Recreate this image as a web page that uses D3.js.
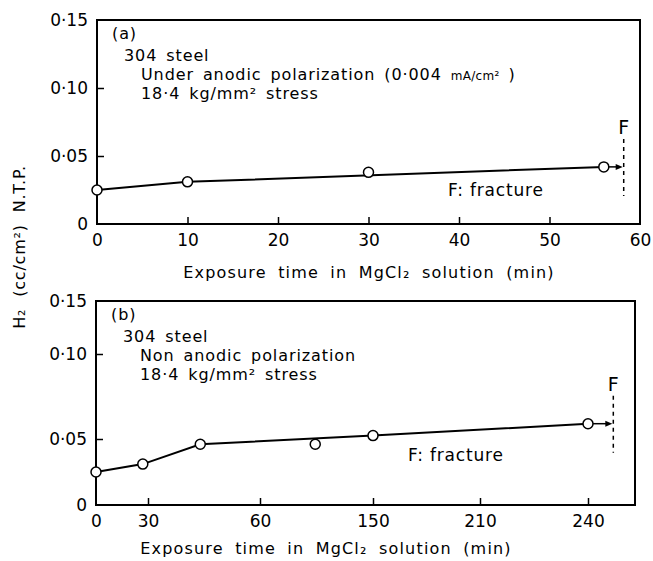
<!DOCTYPE html>
<html>
<head>
<meta charset="utf-8">
<script src="https://cdn.jsdelivr.net/npm/d3@7"></script>
<style>
  body { margin: 0; background: #fff; }
  svg { display: block; font-family: "DejaVu Sans", sans-serif; }
</style>
</head>
<body>
<svg id="chart" width="653" height="561"></svg>
<script>
// panel (a) data: under anodic polarization
const timeA = [0, 10, 30, 56];
const h2A = [0.025, 0.031, 0.038, 0.042];
// drawn line in (a) (does not pass the 30 min point)
const lineTimeA = [0, 10, 56];
const lineH2A = [0.025, 0.031, 0.042];
const fractureA = 58.2;
const xTicksA = [0, 10, 20, 30, 40, 50, 60];

// panel (b) data: non anodic polarization
const timeB = [0, 27, 44, 104, 150, 240];
const h2B = [0.025, 0.031, 0.046, 0.046, 0.052, 0.059];
const lineTimeB = [0, 27, 44, 150, 240];
const lineH2B = [0.025, 0.031, 0.046, 0.052, 0.059];
const fractureB = 247;
const xTicksB = [0, 30, 60, 150, 210, 240];

const yTicks = [0, 0.05, 0.10, 0.15];

const svg = d3.select('#chart');

// scales
const xA = d3.scaleLinear().domain([0, 60]).range([97, 640]);
const yA = d3.scaleLinear().domain([0, 0.15]).range([224, 20]);
// the printed (b) axes are uneven, so piecewise scales
const xB = d3.scaleLinear().domain([0, 30, 60, 150, 210, 240, 253]).range([96, 148, 260, 373, 480, 588, 635]);
const yB = d3.scaleLinear().domain([0, 0.05, 0.10, 0.15]).range([505, 439, 354, 301]);

const fmtY = d => d === 0 ? '0' : d3.format('.2f')(d).replace('.', '·');

function panel(x, y, xTicks, times, vals, lineT, lineV, fracT, label, lines, titleX, titleY, fracLabelX, fracLabelY) {
  const g = svg.append('g');
  const [x0, x1] = [x.range()[0], x.range()[x.range().length - 1]];
  const [y0, y1] = [y.range()[0], y.range()[y.range().length - 1]];

  // frame
  g.append('rect')
    .attr('x', x0).attr('y', y1)
    .attr('width', x1 - x0).attr('height', y0 - y1)
    .attr('fill', 'none').attr('stroke', '#000').attr('stroke-width', 2);

  // axes, ticks point inward
  const ax = g.append('g').attr('transform', `translate(0,${y0})`)
    .call(d3.axisBottom(x).tickValues(xTicks).tickSize(-7).tickPadding(10).tickFormat(d3.format('d')));
  const ay = g.append('g').attr('transform', `translate(${x0},0)`)
    .call(d3.axisLeft(y).tickValues(yTicks).tickSize(-7).tickPadding(9).tickFormat(fmtY));
  [ax, ay].forEach(a => {
    a.select('.domain').remove();
    a.selectAll('line').attr('stroke', '#000').attr('stroke-width', 1.5);
    a.selectAll('text').attr('font-size', 17).attr('fill', '#000')
      .attr('font-family', '"DejaVu Sans", sans-serif');
  });
  // no tick drawn at the frame corners
  ax.selectAll('.tick').filter((d, i) => i === 0 || d === x.domain()[x.domain().length - 1]).select('line').remove();
  ay.selectAll('.tick').filter(d => d === 0 || d === 0.15).select('line').remove();

  // line
  const line = d3.line().x(d => x(d[0])).y(d => y(d[1]));
  g.append('path')
    .datum(d3.zip(lineT, lineV))
    .attr('d', line)
    .attr('fill', 'none').attr('stroke', '#000').attr('stroke-width', 2);

  // fracture marker
  const lastX = x(times[times.length - 1]);
  const lastY = y(vals[vals.length - 1]);
  const fx = x(fracT);
  g.append('line')
    .attr('x1', fx).attr('x2', fx)
    .attr('y1', lastY - 28).attr('y2', lastY + 29)
    .attr('stroke', '#000').attr('stroke-width', 1.5).attr('stroke-dasharray', '4,4');
  g.append('text').attr('x', fx).attr('y', lastY - 33)
    .attr('text-anchor', 'middle').attr('font-size', 19).text('F');
  g.append('line')
    .attr('x1', lastX + 5).attr('x2', fx - 5)
    .attr('y1', lastY).attr('y2', lastY)
    .attr('stroke', '#000').attr('stroke-width', 1.5);
  g.append('path')
    .attr('d', `M${fx - 1},${lastY} l-7,-3 l0,6 z`)
    .attr('fill', '#000');

  // points
  g.selectAll('circle')
    .data(d3.zip(times, vals))
    .join('circle')
    .attr('cx', d => x(d[0])).attr('cy', d => y(d[1]))
    .attr('r', 5)
    .attr('fill', '#fff').attr('stroke', '#000').attr('stroke-width', 1.5);

  g.append('text').attr('x', fracLabelX).attr('y', fracLabelY)
    .attr('font-size', 17).attr('letter-spacing', 0.8).text('F: fracture');

  // annotation text
  const t = g.append('g').attr('font-size', 16).attr('letter-spacing', 0.9).attr('word-spacing', 3);
  t.append('text').attr('x', x0 + 15).attr('y', y1 + 19).text(label);
  lines.forEach((l, i) => {
    const tx = t.append('text').attr('x', x0 + (i === 0 ? 27 : 44)).attr('y', y1 + 41 + i * 19);
    l(tx);
  });

  // x title
  const tt = g.append('text').attr('x', titleX).attr('y', titleY)
    .attr('text-anchor', 'middle').attr('font-size', 16)
    .attr('letter-spacing', 1.2).attr('word-spacing', 5);
  tt.append('tspan').text('Exposure time in MgCl₂ solution  (min)');
}

panel(xA, yA, xTicksA, timeA, h2A, lineTimeA, lineH2A, fractureA, '(a)', [
  s => s.text('304 steel'),
  s => { s.append('tspan').text('Under anodic polarization (0·004 ');
         s.append('tspan').attr('font-size', 12).attr('letter-spacing', 0.3).text('mA/cm²');
         s.append('tspan').text(' )'); },
  s => s.text('18·4 kg/mm² stress')
], 369, 278, 448, 196);

panel(xB, yB, xTicksB, timeB, h2B, lineTimeB, lineH2B, fractureB, '(b)', [
  s => s.text('304 steel'),
  s => s.text('Non anodic polarization'),
  s => s.text('18·4 kg/mm² stress')
], 326, 554, 408, 461);

// shared y title
svg.append('text')
  .attr('transform', 'translate(25,247) rotate(-90)')
  .attr('text-anchor', 'middle').attr('font-size', 16)
  .attr('letter-spacing', 0.8).attr('word-spacing', 6)
  .text('H₂  (cc/cm²)  N.T.P.');
</script>
</body>
</html>
